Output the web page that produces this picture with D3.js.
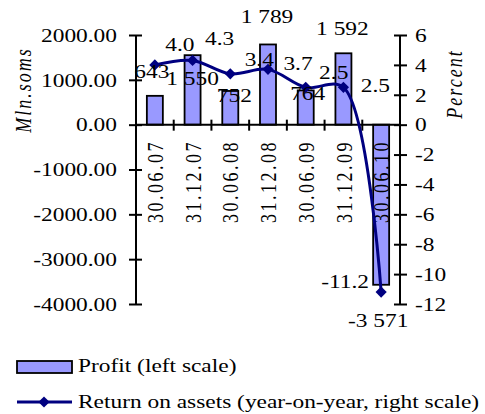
<!DOCTYPE html>
<html lang="en">
<head>
<meta charset="UTF-8">
<title>Profit and return on assets</title>
<script src="https://d3js.org/d3.v7.min.js"></script>
<style>
  body { margin: 0; background: #fff; }
  svg text { font-family: "Liberation Serif", "Times New Roman", serif; font-size: 18px; fill: #000; }
</style>
</head>
<body>
<div id="chart"></div>
<script>
const dates = ["30.06.07", "31.12.07", "30.06.08", "31.12.08", "30.06.09", "31.12.09", "30.06.10"];
const profit = [643, 1550, 752, 1789, 764, 1592, -3571];
const roa = [4.0, 4.3, 3.4, 3.7, 2.5, 2.5, -11.2];
const leftTicks = [2000, 1000, 0, -1000, -2000, -3000, -4000];
const rightTicks = [6, 4, 2, 0, -2, -4, -6, -8, -10, -12];

// hand placed label nudges, like in the original
const profitDx = [-3, 0, 4, -1, 2, -1, -3];
const profitDy = [-24, 24, 5, -28, 3, -25, 36];
const roaDx = [25, 27, 29, 30, 28, 32, -36];
const roaDy = [-20, -22, -14, -6, -15, -2, -10];

const W = 485, H = 414;
const sx = 1.3; // text in the original is stretched sideways
const loc = d3.formatLocale({decimal: ".", thousands: " ", grouping: [3], currency: ["", ""], minus: "-"});
const fmtAxis = loc.format(".2f");
const fmtProfit = loc.format(",d");
const fmtRoa = loc.format(".1f");

const svg = d3.select("#chart").append("svg")
    .attr("width", W)
    .attr("height", H);

const x = d3.scaleBand().domain(dates).range([136, 400]).paddingInner(0).paddingOuter(0);
const yL = d3.scaleLinear().domain([-4000, 2000]).range([304, 35]);
const yR = d3.scaleLinear().domain([-12, 6]).range([304, 35]);
const y0 = yL(0);
const barW = 16;

function stretched(sel, extra) {
    return sel.attr("transform", function() {
        const t = d3.select(this);
        return `translate(${t.attr("data-x")},${t.attr("data-y")}) scale(${sx},1)` + (extra || "");
    });
}

// bars
svg.selectAll("rect.bar")
    .data(profit)
    .join("rect")
    .attr("class", "bar")
    .attr("x", (d, i) => x(dates[i]) + x.bandwidth() / 2 - barW / 2)
    .attr("width", barW)
    .attr("y", d => Math.min(yL(d), y0))
    .attr("height", d => Math.abs(yL(d) - y0))
    .attr("fill", "#9999FF")
    .attr("stroke", "#000")
    .attr("stroke-width", 1.8);

// left axis
const axL = svg.append("g")
    .attr("transform", "translate(136,0)")
    .call(d3.axisLeft(yL).tickValues(leftTicks).tickSize(7).tickFormat(fmtAxis));
axL.select(".domain").attr("stroke-width", 2);
axL.selectAll(".tick line").attr("x1", 6).attr("stroke-width", 2);
axL.selectAll(".tick text")
    .attr("x", null).attr("dy", "0.35em")
    .attr("transform", `translate(-19,0) scale(${sx},1)`)
    .style("font-size", "18px").style("font-family", "Liberation Serif");

// right axis
const axR = svg.append("g")
    .attr("transform", "translate(400,0)")
    .call(d3.axisRight(yR).tickValues(rightTicks).tickSize(7).tickFormat(d3.format("d")));
axR.select(".domain").attr("stroke-width", 2);
axR.selectAll(".tick line").attr("x1", -6).attr("stroke-width", 2);
axR.selectAll(".tick text")
    .attr("x", null).attr("dy", "0.35em")
    .text(d => String(d))
    .attr("transform", `translate(15,0) scale(${sx},1)`)
    .style("font-size", "18px").style("font-family", "Liberation Serif");
axR.selectAll("path.domain").attr("d", `M0,${yR(6)}V${yR(-12)}`);
axL.selectAll("path.domain").attr("d", `M0,${yL(2000)}V${yL(-4000)}`);

// category axis on zero line
svg.append("line")
    .attr("x1", 136).attr("x2", 400)
    .attr("y1", y0).attr("y2", y0)
    .attr("stroke", "#000").attr("stroke-width", 2);
svg.selectAll("line.ctick")
    .data(d3.range(1, dates.length))
    .join("line")
    .attr("class", "ctick")
    .attr("x1", i => x.range()[0] + i * x.step())
    .attr("x2", i => x.range()[0] + i * x.step())
    .attr("y1", y0 - 5).attr("y2", y0 + 6)
    .attr("stroke", "#000").attr("stroke-width", 2);

svg.selectAll("text.cat")
    .data(dates)
    .join("text")
    .attr("class", "cat")
    .attr("data-x", d => x(d) + x.bandwidth() / 2)
    .attr("data-y", 140)
    .call(stretched, " rotate(-90)")
    .attr("text-anchor", "end")
    .attr("dy", "0.35em")
    .style("letter-spacing", "2.5px")
    .text(d => d);

// return on assets line
const line = d3.line()
    .x((d, i) => x(dates[i]) + x.bandwidth() / 2)
    .y(d => yR(d))
    .curve(d3.curveCatmullRom.alpha(0.5));

svg.append("path")
    .datum(roa)
    .attr("d", line)
    .attr("fill", "none")
    .attr("stroke", "#000080")
    .attr("stroke-width", 3);

svg.selectAll("path.mark")
    .data(roa)
    .join("path")
    .attr("class", "mark")
    .attr("d", d3.symbol(d3.symbolDiamond2, 80))
    .attr("transform", (d, i) => `translate(${x(dates[i]) + x.bandwidth() / 2},${yR(d)})`)
    .attr("fill", "#000080");

// labels
svg.selectAll("text.plab")
    .data(profit)
    .join("text")
    .attr("class", "plab")
    .attr("data-x", (d, i) => x(dates[i]) + x.bandwidth() / 2 + profitDx[i])
    .attr("data-y", (d, i) => yL(d) + profitDy[i])
    .call(stretched)
    .attr("text-anchor", "middle")
    .attr("dy", "0.35em")
    .text(d => fmtProfit(d));

svg.selectAll("text.rlab")
    .data(roa)
    .join("text")
    .attr("class", "rlab")
    .attr("data-x", (d, i) => x(dates[i]) + x.bandwidth() / 2 + roaDx[i])
    .attr("data-y", (d, i) => yR(d) + roaDy[i])
    .call(stretched)
    .attr("text-anchor", "middle")
    .attr("dy", "0.35em")
    .text(d => fmtRoa(d));

// axis titles
svg.append("text")
    .attr("data-x", 31).attr("data-y", 90)
    .call(stretched, " rotate(-90)")
    .attr("text-anchor", "middle")
    .style("font-style", "italic")
    .style("letter-spacing", "2px")
    .text("Mln.soms");

svg.append("text")
    .attr("data-x", 462).attr("data-y", 84)
    .call(stretched, " rotate(-90)")
    .attr("text-anchor", "middle")
    .style("font-style", "italic")
    .style("letter-spacing", "2px")
    .text("Percent");

// legend
svg.append("rect")
    .attr("x", 17).attr("y", 361)
    .attr("width", 55).attr("height", 12)
    .attr("fill", "#9999FF")
    .attr("stroke", "#000")
    .attr("stroke-width", 1.8);
svg.append("text")
    .attr("data-x", 78).attr("data-y", 372)
    .call(stretched)
    .text("Profit (left scale)");

svg.append("line")
    .attr("x1", 17).attr("x2", 72)
    .attr("y1", 402).attr("y2", 402)
    .attr("stroke", "#000080").attr("stroke-width", 3);
svg.append("path")
    .attr("d", d3.symbol(d3.symbolDiamond2, 80))
    .attr("transform", "translate(44,402)")
    .attr("fill", "#000080");
svg.append("text")
    .attr("data-x", 78).attr("data-y", 408)
    .call(stretched)
    .text("Return on assets (year-on-year, right scale)");
</script>
</body>
</html>
